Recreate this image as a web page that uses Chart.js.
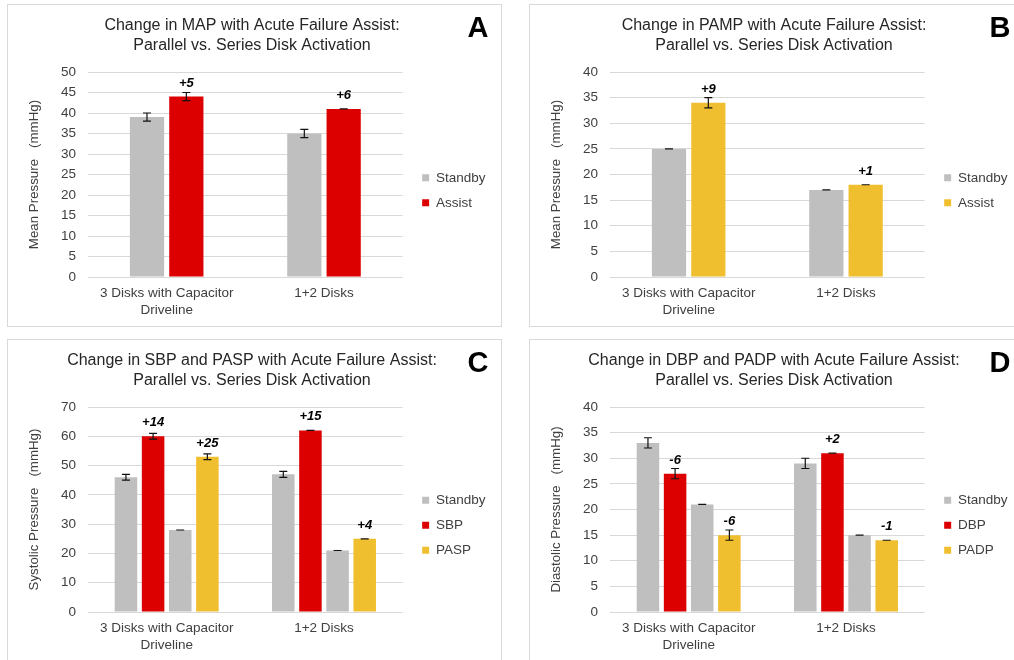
<!DOCTYPE html>
<html>
<head>
<meta charset="utf-8">
<script src="https://cdn.jsdelivr.net/npm/chart.js@4"></script>
<style>
  body { margin: 0; background: #fff; width: 1014px; height: 660px; overflow: hidden; position: relative; }
  .panel { position: absolute; width: 493px; height: 321px; border: 1px solid #d9d9d9; background: #fff; }
  .panel canvas { position: absolute; left: 0; top: 0; }
</style>
</head>
<body>
<div class="panel" style="left:7px;top:4px"><canvas id="chartA" width="493" height="321"></canvas></div>
<div class="panel" style="left:529px;top:4px"><canvas id="chartB" width="493" height="321"></canvas></div>
<div class="panel" style="left:7px;top:339px"><canvas id="chartC" width="493" height="321"></canvas></div>
<div class="panel" style="left:529px;top:339px"><canvas id="chartD" width="493" height="321"></canvas></div>
<script>
const categories = [['3 Disks with Capacitor', 'Driveline'], '1+2 Disks'];

// A - MAP
const mapStandby = [39, 35];
const mapStandbyErr = [1, 1];
const mapAssist = [44, 41];
const mapAssistErr = [1, 0];
const mapChange = ['+5', '+6'];

// B - PAMP
const pampStandby = [25, 17];
const pampStandbyErr = [0, 0];
const pampAssist = [34, 18];
const pampAssistErr = [1, 0];
const pampChange = ['+9', '+1'];

// C - SBP / PASP
const sbpStandby = [46, 47];
const sbpStandbyErr = [1, 1];
const sbpAssist = [60, 62];
const sbpAssistErr = [1, 0];
const sbpChange = ['+14', '+15'];
const paspStandby = [28, 21];
const paspStandbyErr = [0, 0];
const paspAssist = [53, 25];
const paspAssistErr = [1, 0];
const paspChange = ['+25', '+4'];

// D - DBP / PADP
const dbpStandby = [33, 29];
const dbpStandbyErr = [1, 1];
const dbpAssist = [27, 31];
const dbpAssistErr = [1, 0];
const dbpChange = ['-6', '+2'];
const padpStandby = [21, 15];
const padpStandbyErr = [0, 0];
const padpAssist = [15, 14];
const padpAssistErr = [1, 0];
const padpChange = ['-6', '-1'];

const GRAY = '#bfbfbf';
const RED = '#dc0000';
const GOLD = '#f0bf30';
const TEXT = '#404040';

Chart.defaults.font.family = '"Liberation Sans", Arial, sans-serif';

// error bars, change labels and the panel letter
function annotate(letter) {
  return {
    id: 'annotate',
    afterDatasetsDraw(chart) {
      const ctx = chart.ctx;
      const y = chart.scales.y;
      ctx.save();
      chart.data.datasets.forEach((ds, i) => {
        chart.getDatasetMeta(i).data.forEach((bar, j) => {
          const v = ds.data[j], e = ds.errors[j];
          const top = y.getPixelForValue(v + e);
          const bottom = y.getPixelForValue(v - e);
          ctx.strokeStyle = '#111';
          ctx.lineWidth = 1.2;
          ctx.beginPath();
          ctx.moveTo(bar.x, top); ctx.lineTo(bar.x, bottom);
          ctx.moveTo(bar.x - 4, top); ctx.lineTo(bar.x + 4, top);
          ctx.moveTo(bar.x - 4, bottom); ctx.lineTo(bar.x + 4, bottom);
          ctx.stroke();
          if (ds.changes) {
            ctx.font = 'italic bold 13px "Liberation Sans", Arial';
            ctx.fillStyle = '#000';
            ctx.textAlign = 'center';
            ctx.textBaseline = 'alphabetic';
            ctx.fillText(ds.changes[j], bar.x, bar.y - 10);
          }
        });
      });
      ctx.font = 'bold 29px "Liberation Sans", Arial';
      ctx.fillStyle = '#000';
      ctx.textAlign = 'center';
      ctx.fillText(letter, 470, 32);
      ctx.restore();
    }
  };
}

function panelChart(id, letter, titleLines, yTitle, yMax, yStep, datasets, catPct, barPct) {
  return new Chart(document.getElementById(id), {
    type: 'bar',
    data: { labels: categories, datasets: datasets },
    options: {
      responsive: false,
      animation: false,
      layout: { padding: { left: 6, right: 11, top: 0, bottom: 0 } },
      datasets: { bar: { categoryPercentage: catPct, barPercentage: barPct } },
      scales: {
        x: {
          grid: { display: false, drawTicks: false },
          border: { display: false },
          ticks: { color: TEXT, font: { size: 13.5, lineHeight: 1.24 }, padding: 8 },
          afterFit: s => { s.height = 49; }
        },
        y: {
          min: 0, max: yMax,
          ticks: { stepSize: yStep, color: TEXT, font: { size: 13.5 }, padding: 12 },
          grid: { color: '#d9d9d9', drawTicks: false },
          border: { display: false },
          title: { display: true, text: yTitle, color: TEXT, font: { size: 13.3 }, padding: { top: 12, bottom: 0 } },
          afterFit: s => { s.width = 74; }
        },
        gap: {
          position: 'right',
          grid: { display: false },
          border: { display: false },
          ticks: { display: false },
          afterFit: s => { s.width = 8; }
        }
      },
      plugins: {
        title: {
          display: true, text: titleLines, color: '#262626',
          font: { size: 16, weight: 'normal', lineHeight: 1.25 },
          padding: { top: 11, bottom: 16 }
        },
        legend: {
          position: 'right',
          fullSize: false,
          title: { display: true, text: ' ', padding: 8, font: { size: 13 } },
          labels: {
            boxWidth: 7, boxHeight: 7, padding: 11.5, color: TEXT, font: { size: 13.5 },
            filter: (item, data) => !data.datasets[item.datasetIndex].noLegend
          }
        },
        tooltip: { enabled: false }
      }
    },
    plugins: [annotate(letter)]
  });
}

panelChart('chartA', 'A',
  ['Change in MAP with Acute Failure Assist:', 'Parallel vs. Series Disk Activation'],
  'Mean Pressure   (mmHg)', 50, 5, [
    { label: 'Standby', data: mapStandby, errors: mapStandbyErr, backgroundColor: GRAY },
    { label: 'Assist', data: mapAssist, errors: mapAssistErr, changes: mapChange, backgroundColor: RED }
  ], 0.5, 0.87);

panelChart('chartB', 'B',
  ['Change in PAMP with Acute Failure Assist:', 'Parallel vs. Series Disk Activation'],
  'Mean Pressure   (mmHg)', 40, 5, [
    { label: 'Standby', data: pampStandby, errors: pampStandbyErr, backgroundColor: GRAY },
    { label: 'Assist', data: pampAssist, errors: pampAssistErr, changes: pampChange, backgroundColor: GOLD }
  ], 0.5, 0.87);

panelChart('chartC', 'C',
  ['Change in SBP and PASP with Acute Failure Assist:', 'Parallel vs. Series Disk Activation'],
  'Systolic Pressure   (mmHg)', 70, 10, [
    { label: 'Standby', data: sbpStandby, errors: sbpStandbyErr, backgroundColor: GRAY },
    { label: 'SBP', data: sbpAssist, errors: sbpAssistErr, changes: sbpChange, backgroundColor: RED },
    { label: 'Standby', data: paspStandby, errors: paspStandbyErr, backgroundColor: GRAY, noLegend: true },
    { label: 'PASP', data: paspAssist, errors: paspAssistErr, changes: paspChange, backgroundColor: GOLD }
  ], 0.69, 0.83);

panelChart('chartD', 'D',
  ['Change in DBP and PADP with Acute Failure Assist:', 'Parallel vs. Series Disk Activation'],
  'Diastolic Pressure   (mmHg)', 40, 5, [
    { label: 'Standby', data: dbpStandby, errors: dbpStandbyErr, backgroundColor: GRAY },
    { label: 'DBP', data: dbpAssist, errors: dbpAssistErr, changes: dbpChange, backgroundColor: RED },
    { label: 'Standby', data: padpStandby, errors: padpStandbyErr, backgroundColor: GRAY, noLegend: true },
    { label: 'PADP', data: padpAssist, errors: padpAssistErr, changes: padpChange, backgroundColor: GOLD }
  ], 0.69, 0.83);
</script>
</body>
</html>
